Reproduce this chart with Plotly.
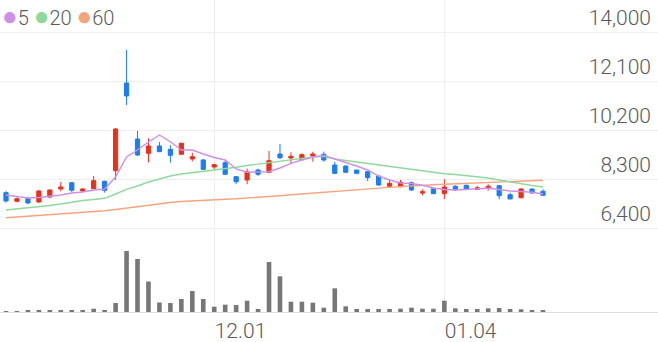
import plotly.graph_objects as go

dates = ["11.06", "11.07", "11.08", "11.09", "11.10", "11.13", "11.14", "11.15", "11.16", "11.17",
         "11.20", "11.21", "11.22", "11.23", "11.24", "11.27", "11.28", "11.29", "11.30", "12.01",
         "12.04", "12.05", "12.06", "12.07", "12.08", "12.11", "12.12", "12.13", "12.14", "12.15",
         "12.18", "12.19", "12.20", "12.21", "12.22", "12.26", "12.27", "12.28", "01.02", "01.03",
         "01.04", "01.05", "01.08", "01.09", "01.10", "01.11", "01.12", "01.15", "01.16", "01.17"]

open_ = [7770, 7435, 7536, 7408, 7602, 7912, 8157, 7835, 7924, 8210,
         8622, 12023, 9851, 9297, 9580, 9452, 9258, 9076, 9037, 8765,
         8932, 8390, 8261, 8649, 8560, 9269, 9114, 9049, 9192, 9258,
         8843, 8804, 8649, 8583, 8416, 8017, 8002, 8157, 7757, 7924,
         7730, 8017, 8056, 7900, 7951, 8040, 7692, 7575, 7912, 7823]
high = [7830, 7590, 7580, 7870, 7900, 8184, 8184, 7950, 8416, 8234,
        10278, 13302, 10161, 9878, 9735, 9607, 9700, 9320, 9080, 8893,
        9000, 8416, 8700, 8700, 9386, 9657, 9335, 9300, 9360, 9360,
        8960, 8820, 8649, 8583, 8416, 8261, 8261, 8200, 7900, 7940,
        8288, 8060, 8080, 8030, 8095, 8067, 7770, 7950, 7930, 7900]
low = [7381, 7397, 7330, 7370, 7560, 7823, 7800, 7800, 7924, 7769,
       8261, 11169, 9192, 8948, 9359, 8932, 9250, 8986, 8650, 8688,
       8450, 8095, 8095, 8420, 8520, 9076, 8893, 9049, 8971, 8971,
       8490, 8540, 8480, 8222, 8040, 7978, 7980, 7840, 7668, 7720,
       7525, 7830, 7890, 7870, 7846, 7513, 7525, 7550, 7740, 7653]
close = [7450, 7536, 7370, 7835, 7873, 7990, 7862, 7912, 8234, 7862,
         10239, 11518, 9231, 9580, 9359, 9219, 9685, 9165, 8676, 8855,
         8482, 8195, 8583, 8482, 9010, 9126, 9180, 9243, 9269, 9037,
         8521, 8560, 8521, 8350, 8067, 8133, 8172, 7873, 7808, 7730,
         7990, 7885, 7900, 7963, 8017, 7653, 7525, 7912, 7757, 7668]

ma5 = [7680, 7621, 7563, 7583, 7621, 7680, 7757, 7796, 7873, 7912,
       8378, 9153, 9425, 9735, 10006, 9746, 9425, 9425, 9269, 9134,
       9037, 8688, 8560, 8571, 8583, 8727, 8909, 9037, 9153, 9211,
       9076, 8959, 8804, 8649, 8416, 8261, 8145, 8126, 8056, 7951,
       7893, 7873, 7893, 7912, 7939, 7893, 7835, 7815, 7784, 7718]
ma20 = [7098, 7137, 7176, 7214, 7272, 7331, 7408, 7466, 7505, 7552,
        7718, 7901, 8029, 8184, 8300, 8416, 8494, 8544, 8591, 8649,
        8699, 8754, 8824, 8882, 8932, 8998, 9048, 9103, 9153, 9180,
        9076, 9017, 8959, 8901, 8843, 8785, 8727, 8661, 8610, 8552,
        8502, 8475, 8436, 8405, 8339, 8261, 8184, 8106, 8048, 7990]
ma60 = [6799, 6827, 6858, 6885, 6916, 6943, 6974, 7005, 7036, 7067,
        7117, 7176, 7234, 7292, 7338, 7389, 7428, 7455, 7478, 7493,
        7513, 7532, 7556, 7583, 7618, 7652, 7687, 7722, 7757, 7788,
        7819, 7850, 7881, 7912, 7943, 7974, 8005, 8036, 8056, 8075,
        8095, 8114, 8133, 8153, 8172, 8188, 8203, 8219, 8234, 8250]

volume = [50, 50, 65, 85, 100, 100, 85, 65, 165, 85,
          450, 3050, 2650, 1525, 475, 450, 650, 1050, 650, 265,
          365, 350, 565, 150, 2500, 1785, 515, 515, 465, 215,
          1185, 285, 150, 150, 150, 150, 165, 215, 165, 165,
          565, 185, 150, 150, 185, 200, 150, 135, 100, 85]

price_ticks = [6400, 8300, 10200, 12100, 14000]
date_ticks = ["12.01", "01.04"]
ma_names = ["5", "20", "60"]

RED = "#e5321c"
BLUE = "#1c7df0"
C5, C20, C60 = "#d08fe6", "#8ed99c", "#f6a47e"
TXT = "#5a5a5a"

fig = go.Figure()
fig.add_trace(go.Candlestick(
    x=dates, open=open_, high=high, low=low, close=close,
    increasing=dict(line=dict(color=RED, width=1), fillcolor=RED),
    decreasing=dict(line=dict(color=BLUE, width=1), fillcolor=BLUE),
    whiskerwidth=0, showlegend=False, xaxis="x", yaxis="y"))
for vals, col in [(ma60, C60), (ma20, C20), (ma5, C5)]:
    fig.add_trace(go.Scatter(x=dates, y=vals, mode="lines",
                             line=dict(color=col, width=1.4),
                             showlegend=False, xaxis="x", yaxis="y"))
fig.add_trace(go.Bar(x=dates, y=volume, marker=dict(color="#777777", line=dict(width=0)),
                     width=0.42, showlegend=False, xaxis="x", yaxis="y2"))

n = len(dates)
step = 537 / (n - 1)
x0 = -6 / step
x1 = x0 + 658 / step

dot = "<span style='color:{c};font-size:26px'>●</span>"
fig.update_layout(
    width=658, height=342,
    margin=dict(l=0, r=0, t=0, b=30),
    paper_bgcolor="white", plot_bgcolor="white",
    boxgap=0.45,
    xaxis=dict(type="category", categoryorder="array", categoryarray=dates,
               range=[x0, x1], rangeslider=dict(visible=False),
               tickmode="array", tickvals=date_ticks, ticktext=date_ticks,
               ticklabelposition="outside right", ticks="", ticklen=0,
               showgrid=True, gridcolor="#eeeeee", gridwidth=1,
               showline=True, linecolor="#dddddd", linewidth=1,
               tickfont=dict(family="Roboto", size=21, color=TXT, weight=300),
               anchor="y2", zeroline=False),
    yaxis=dict(domain=[0.25, 1], range=[6400 - 6 * 1900 / 49, 14000 + 32 * 1900 / 49],
               side="right", tickmode="array", tickvals=price_ticks,
               ticktext=[f"{v:,}" for v in price_ticks],
               ticklabelposition="inside", ticklabelshift=-14, ticklabelstandoff=4,
               showgrid=True, gridcolor="#eeeeee", gridwidth=1, zeroline=False,
               tickfont=dict(family="Roboto", size=21, color=TXT, weight=300), anchor="x"),
    yaxis2=dict(domain=[0, 0.25], range=[0, 3050 * 78 / 61], showgrid=False,
                showticklabels=False, zeroline=False, anchor="x"),
    annotations=[dict(
        xref="paper", yref="paper", x=0.0, y=1.0, xanchor="left", yanchor="middle",
        yshift=-16, xshift=0, showarrow=False, align="left",
        font=dict(family="Roboto", size=20, color=TXT, weight=300),
        text=(dot.format(c=C5) + f"{ma_names[0]} " +
              dot.format(c=C20) + f"{ma_names[1]} " +
              dot.format(c=C60) + f"{ma_names[2]}"))],
)

fig.write_html("out.html")
